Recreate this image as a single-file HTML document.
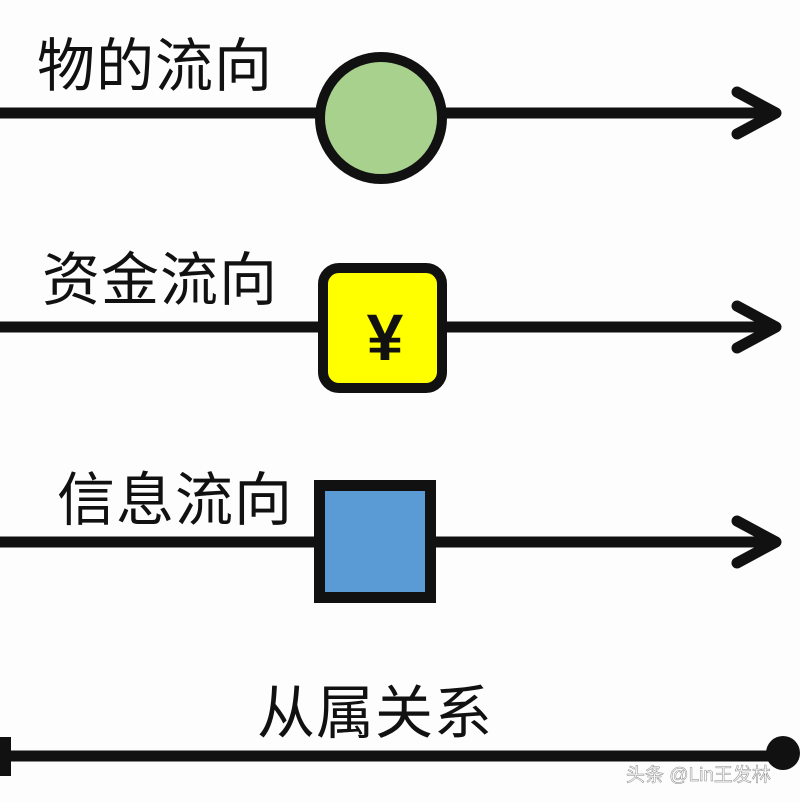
<!DOCTYPE html>
<html><head><meta charset="utf-8"><style>
html,body{margin:0;padding:0;background:#fdfdfd;}
svg{display:block;}
text{font-family:"Liberation Sans","Noto Sans CJK SC",sans-serif;}
</style></head><body>
<svg width="800" height="802" viewBox="0 0 800 802" xmlns="http://www.w3.org/2000/svg">
<rect width="800" height="802" fill="#fdfdfd"/>
<g fill="#111" font-size="58" letter-spacing="1">
<text x="37" y="86">物的流向</text>
<text x="42" y="300">资金流向</text>
<text x="57" y="520">信息流向</text>
<text x="257" y="733">从属关系</text>
</g>
<g stroke="#111" stroke-width="11" fill="none" stroke-linecap="round" stroke-linejoin="round">
<line x1="0" y1="113" x2="772" y2="113" stroke-linecap="butt"/>
<polyline points="737,92 776,113 737,134"/>
<line x1="0" y1="327" x2="772" y2="327" stroke-linecap="butt"/>
<polyline points="737,306 776,327 737,348"/>
<line x1="0" y1="542" x2="772" y2="542" stroke-linecap="butt"/>
<polyline points="737,521 776,542 737,563"/>
<line x1="0" y1="756" x2="785" y2="756" stroke-linecap="butt"/>
</g>
<rect x="0" y="737" width="11" height="39" fill="#111"/>
<circle cx="783" cy="753" r="17" fill="#111"/>
<circle cx="381" cy="118" r="61" fill="#a9d18e" stroke="#111" stroke-width="10"/>
<rect x="323" y="268" width="119" height="120" rx="16" fill="#ffff00" stroke="#111" stroke-width="10"/>
<text x="385" y="360" text-anchor="middle" font-size="66" font-weight="bold" fill="#111">¥</text>
<rect x="319.5" y="485.5" width="111" height="112" fill="#5b9bd5" stroke="#111" stroke-width="11"/>
<text x="626" y="781" font-size="19" fill="#fff" stroke="#888" stroke-width="0.5">头条 @Lin王发林</text>
</svg>
</body></html>
